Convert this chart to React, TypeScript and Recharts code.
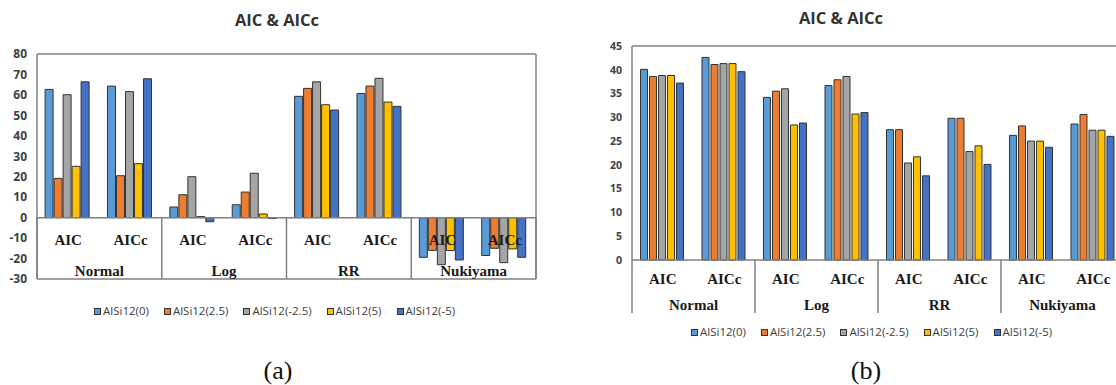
import React from 'react';
import { BarChart, Bar, XAxis, YAxis, ReferenceLine, Legend } from 'recharts';

// Category structure shared by both panels
const GROUPS = ['Normal', 'Log', 'RR', 'Nukiyama'];
const CRITERIA = ['AIC', 'AICc'];

const SERIES_NAMES = ['AlSi12(0)', 'AlSi12(2.5)', 'AlSi12(-2.5)', 'AlSi12(5)', 'AlSi12(-5)'];
const SERIES_COLORS = ['#5B9BD5', '#ED7D31', '#A5A5A5', '#FFC000', '#4472C4'];

// Panel (a): values in order Normal AIC, Normal AICc, Log AIC, Log AICc, RR AIC, RR AICc, Nukiyama AIC, Nukiyama AICc
const A_ALSI12_0 = [62.7, 64.3, 5.2, 6.3, 59.3, 60.7, -19.4, -18.5];
const A_ALSI12_2_5 = [19.2, 20.5, 11.2, 12.5, 63.2, 64.3, -16.0, -15.0];
const A_ALSI12_M2_5 = [60.1, 61.6, 20.0, 21.7, 66.4, 68.1, -23.0, -22.0];
const A_ALSI12_5 = [25.1, 26.4, 0.5, 1.8, 55.2, 56.5, -16.1, -15.3];
const A_ALSI12_M5 = [66.4, 67.9, -2.0, -0.4, 52.6, 54.4, -20.7, -19.4];
const A_TICKS = [-30, -20, -10, 0, 10, 20, 30, 40, 50, 60, 70, 80];

// Panel (b)
const B_ALSI12_0 = [40.1, 42.6, 34.2, 36.7, 27.4, 29.8, 26.2, 28.6];
const B_ALSI12_2_5 = [38.6, 41.1, 35.5, 37.9, 27.4, 29.8, 28.2, 30.6];
const B_ALSI12_M2_5 = [38.8, 41.3, 36.0, 38.6, 20.4, 22.8, 25.0, 27.3];
const B_ALSI12_5 = [38.8, 41.3, 28.4, 30.7, 21.7, 24.0, 25.0, 27.3];
const B_ALSI12_M5 = [37.2, 39.6, 28.8, 31.0, 17.7, 20.1, 23.7, 26.0];
const B_TICKS = [0, 5, 10, 15, 20, 25, 30, 35, 40, 45];

const TITLE = 'AIC & AICc';

type Row = { group: string; label: string; [k: string]: string | number };

function buildRows(series: number[][]): Row[] {
  const rows: Row[] = [];
  GROUPS.forEach((g, gi) => {
    CRITERIA.forEach((c, ci) => {
      const idx = gi * CRITERIA.length + ci;
      const row: Row = { group: g, label: c };
      series.forEach((vals, si) => {
        row[`s${si}`] = vals[idx];
      });
      rows.push(row);
    });
  });
  return rows;
}

const ROWS_A = buildRows([A_ALSI12_0, A_ALSI12_2_5, A_ALSI12_M2_5, A_ALSI12_5, A_ALSI12_M5]);
const ROWS_B = buildRows([B_ALSI12_0, B_ALSI12_2_5, B_ALSI12_M2_5, B_ALSI12_5, B_ALSI12_M5]);

const FRAME = '#808080';
const FRAME_W = 1.5;
const CAT_TEXT: React.CSSProperties = {
  fontFamily: '"Liberation Serif", "Times New Roman", serif',
  fontWeight: 700,
  fontSize: 15,
  fill: '#1a1a1a',
};

type CatTickCfg = {
  band: number;
  zeroAbove: number; // distance from the tick anchor up to the zero line
  subDy: number;
  groupDy: number;
  sepLen: number;
};

// Two-level category labels (criterion, then model group) with group separators
const makeCategoryTick = (cfg: CatTickCfg) => (props: any) => {
  const { x, y, payload } = props;
  const index: number = props.index ?? payload?.index ?? 0;
  const zeroY = y - cfg.zeroAbove;
  const perGroup = CRITERIA.length;
  const lastInGroup = index % perGroup === perGroup - 1;
  const groupName = GROUPS[Math.floor(index / perGroup)];
  const groupCenter = x - ((perGroup - 1) * cfg.band) / 2;
  return (
    <g>
      <text x={x} y={zeroY + cfg.subDy} textAnchor="middle" style={CAT_TEXT}>
        {payload.value}
      </text>
      {lastInGroup && (
        <text x={groupCenter} y={zeroY + cfg.groupDy} textAnchor="middle" style={CAT_TEXT}>
          {groupName}
        </text>
      )}
      {lastInGroup && (
        <line
          x1={x + cfg.band / 2}
          x2={x + cfg.band / 2}
          y1={zeroY}
          y2={zeroY + cfg.sepLen}
          stroke={FRAME}
          strokeWidth={FRAME_W}
        />
      )}
      {index === 0 && (
        <line
          x1={x - cfg.band / 2}
          x2={x - cfg.band / 2}
          y1={zeroY}
          y2={zeroY + cfg.sepLen}
          stroke={FRAME}
          strokeWidth={FRAME_W}
        />
      )}
    </g>
  );
};

// Legend kept in series order
const LegendRow = (props: any) => {
  const items: any[] = [...(props.payload || [])].sort(
    (p, q) => SERIES_NAMES.indexOf(p.value) - SERIES_NAMES.indexOf(q.value)
  );
  return (
    <div
      style={{
        display: 'flex',
        alignItems: 'center',
        whiteSpace: 'nowrap',
        fontFamily: '"Open Sans", sans-serif',
        fontSize: 11.5,
        lineHeight: '14px',
        color: '#404040',
      }}
    >
      {items.map((it, i) => (
        <div
          key={i}
          style={{ display: 'flex', alignItems: 'center', marginRight: i < items.length - 1 ? 15 : 0 }}
        >
          <span
            style={{
              display: 'inline-block',
              width: 5,
              height: 5,
              background: it.color,
              border: '1px solid #333',
              marginRight: 2,
            }}
          />
          <span>{it.value}</span>
        </div>
      ))}
    </div>
  );
};

const renderBars = () =>
  SERIES_NAMES.map((name, i) => (
    <Bar
      key={name}
      dataKey={`s${i}`}
      name={name}
      fill={SERIES_COLORS[i]}
      stroke="#333333"
      strokeWidth={1}
      isAnimationActive={false}
    />
  ));

const frameLine = { stroke: FRAME, strokeWidth: FRAME_W };

// Panel (a) geometry
const A_W = 560;
const A_H = 330;
const A_MARGIN = { top: 53, right: 23, bottom: 50, left: 0 };
const A_YW = 37;
const A_PLOT_W = A_W - A_MARGIN.left - A_MARGIN.right - A_YW - 1;
const A_PLOT_H = A_H - A_MARGIN.top - A_MARGIN.bottom - 2;
const A_DOMAIN: [number, number] = [A_TICKS[0], A_TICKS[A_TICKS.length - 1]];
const A_PX_PER_UNIT = A_PLOT_H / (A_DOMAIN[1] - A_DOMAIN[0]);

// Panel (b) geometry
const B_LEFT = 580;
const B_W = 560;
const B_H = 385;
const B_MARGIN = { top: 45, right: 15, bottom: 72, left: 0 };
const B_YW = 52;
const B_XH = 53;
const B_PLOT_W = B_W - B_MARGIN.left - B_MARGIN.right - B_YW - 1;
const B_DOMAIN: [number, number] = [B_TICKS[0], B_TICKS[B_TICKS.length - 1]];

const tickA = makeCategoryTick({
  band: A_PLOT_W / ROWS_A.length,
  zeroAbove: (0 - A_DOMAIN[0]) * A_PX_PER_UNIT,
  subDy: 27.3,
  groupDy: 58.3,
  sepLen: (0 - A_DOMAIN[0]) * A_PX_PER_UNIT,
});

const tickB = makeCategoryTick({
  band: B_PLOT_W / ROWS_B.length,
  zeroAbove: 0,
  subDy: 23.5,
  groupDy: 49.5,
  sepLen: 53,
});

const yTickA = { fill: '#404040', fontSize: 12, fontWeight: 700, fontFamily: '"Open Sans", sans-serif' };
const yTickB = { fill: '#404040', fontSize: 10.5, fontWeight: 700, fontFamily: '"Open Sans", sans-serif' };

const titleStyle: React.CSSProperties = {
  fontFamily: '"Open Sans", sans-serif',
  fontWeight: 700,
  fontSize: 16.5,
  fill: '#333333',
};
const captionStyle: React.CSSProperties = {
  fontFamily: '"Liberation Serif", "Times New Roman", serif',
  fontSize: 26,
  fill: '#111111',
};

export default function App() {
  return (
    <div
      style={{
        position: 'absolute',
        left: 0,
        top: 0,
        width: 1116,
        height: 385,
        overflow: 'hidden',
        background: '#ffffff',
      }}
    >
      <div style={{ position: 'absolute', left: 0, top: 0 }}>
        <BarChart
          width={A_W}
          height={A_H}
          data={ROWS_A}
          margin={A_MARGIN}
          barGap={1}
          barCategoryGap="13%"
        >
          {renderBars()}
          <ReferenceLine y={0} stroke={FRAME} strokeWidth={FRAME_W} />
          <YAxis
            width={A_YW}
            domain={A_DOMAIN}
            ticks={A_TICKS}
            interval={0}
            tickSize={0}
            tickMargin={10}
            tickLine={false}
            axisLine={frameLine}
            tick={yTickA}
          />
          <YAxis yAxisId="frame" orientation="right" width={1} tick={false} tickLine={false} axisLine={frameLine} />
          <XAxis xAxisId="top" orientation="top" dataKey="label" height={1} tick={false} tickLine={false} axisLine={frameLine} />
          <XAxis
            dataKey="label"
            height={1}
            interval={0}
            tickSize={0}
            tickMargin={0}
            tickLine={false}
            axisLine={frameLine}
            tick={tickA}
          />
          <Legend
            layout="horizontal"
            verticalAlign="middle"
            align="center"
            wrapperStyle={{ left: 94, top: 304, width: 'auto' }}
            content={LegendRow}
          />
        </BarChart>
      </div>

      <div style={{ position: 'absolute', left: B_LEFT, top: 0 }}>
        <BarChart
          width={B_W}
          height={B_H}
          data={ROWS_B}
          margin={B_MARGIN}
          barGap={2}
          barCategoryGap="13.8%"
        >
          {renderBars()}
          <YAxis
            width={B_YW}
            domain={B_DOMAIN}
            ticks={B_TICKS}
            interval={0}
            tickSize={0}
            tickMargin={10}
            tickLine={false}
            axisLine={frameLine}
            tick={yTickB}
          />
          <YAxis yAxisId="frame" orientation="right" width={1} tick={false} tickLine={false} axisLine={frameLine} />
          <XAxis xAxisId="top" orientation="top" dataKey="label" height={1} tick={false} tickLine={false} axisLine={frameLine} />
          <XAxis
            dataKey="label"
            height={B_XH}
            interval={0}
            tickSize={0}
            tickMargin={0}
            tickLine={false}
            axisLine={frameLine}
            tick={tickB}
          />
          <Legend
            layout="horizontal"
            verticalAlign="middle"
            align="center"
            wrapperStyle={{ left: 111, top: 325, width: 'auto' }}
            content={LegendRow}
          />
        </BarChart>
      </div>

      <svg
        width={1116}
        height={385}
        style={{ position: 'absolute', left: 0, top: 0, pointerEvents: 'none' }}
      >
        <text x={277} y={25.5} textAnchor="middle" style={titleStyle}>{TITLE}</text>
        <text x={841} y={24} textAnchor="middle" style={titleStyle}>{TITLE}</text>
        <text x={278} y={379} textAnchor="middle" style={captionStyle}>(a)</text>
        <text x={866} y={379} textAnchor="middle" style={captionStyle}>(b)</text>
      </svg>
    </div>
  );
}
